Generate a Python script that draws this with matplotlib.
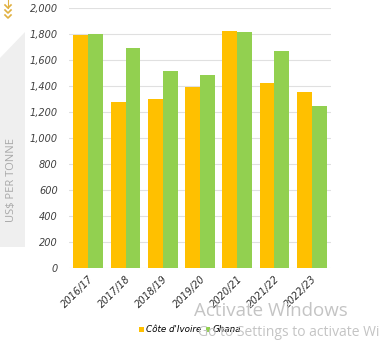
import numpy as np
import matplotlib
matplotlib.use("Agg")
import matplotlib.pyplot as plt
from matplotlib.patches import Polygon

seasons = ["2016/17", "2017/18", "2018/19", "2019/20", "2020/21", "2021/22", "2022/23"]
cote_divoire = [1790, 1277, 1300, 1395, 1823, 1421, 1354]
ghana = [1800, 1694, 1518, 1487, 1818, 1672, 1244]
yticks = [0, 200, 400, 600, 800, 1000, 1200, 1400, 1600, 1800, 2000]

gold = "#FFC000"
green = "#92D050"

fig = plt.figure(figsize=(3.8, 3.51), dpi=100)
W, H = 380, 351

# grey side band with the axis title
band = Polygon([(0, 1 - 58 / H), (25 / W, 1 - 32 / H), (25 / W, 1 - 247 / H), (0, 1 - 247 / H)],
               closed=True, transform=fig.transFigure, facecolor="#efefef", edgecolor="none")
fig.patches.append(band)
fig.text(12 / W, 1 - 180 / H, "US$ PER TONNE", rotation=90, ha="center", va="center",
         fontsize=8, color="#a8a8a8", family="Open Sans")

# little gold arrows top left
arrow_col = "#e0b040"
fig.add_artist(plt.Line2D([8 / W, 8 / W], [1.0, 1 - 8 / H], transform=fig.transFigure, color=arrow_col, lw=0.8))
for yy in (8, 13, 18):
    fig.add_artist(plt.Line2D([5 / W, 8 / W, 11 / W], [1 - (yy - 3) / H, 1 - yy / H, 1 - (yy - 3) / H],
                              transform=fig.transFigure, color=arrow_col, lw=1.2))

ax = fig.add_axes([69 / W, 1 - 268 / H, (331 - 69) / W, 260 / H])
x = np.arange(len(seasons))
w = 0.4
ax.bar(x - w / 2, cote_divoire, w, color=gold, label="Côte d'Ivoire", zorder=2)
ax.bar(x + w / 2, ghana, w, color=green, label="Ghana", zorder=2)

ax.set_xlim(-0.52, 6.52)
ax.set_ylim(0, 2000)
ax.set_yticks(yticks)
ax.set_yticklabels([f"{v:,}" for v in yticks], fontsize=7, style="italic", color="#404040")
ax.set_xticks(x)
ax.set_xticklabels(seasons, rotation=45, ha="right", rotation_mode="anchor",
                   fontsize=7, style="italic", color="#303030")
ax.grid(axis="y", color="#e0e0e0", lw=0.8, zorder=0)
ax.tick_params(length=0, pad=8)
ax.tick_params(axis="x", pad=4)
for s in ax.spines.values():
    s.set_visible(False)

leg = ax.legend(loc="center", ncol=2, frameon=False, handlelength=0.5, handleheight=0.5,
                handletextpad=0.25, columnspacing=0.5,
                prop={"style": "italic", "size": 6.3, "family": "DejaVu Sans"})
leg.set_bbox_to_anchor((190 / W, 1 - 330 / H), transform=fig.transFigure)

# screenshot watermark
fig.text(194 / W, 1 - 311 / H, "Activate Windows", fontsize=13.5, color="#c4c4c4",
         va="center", family="Open Sans")
fig.text(198 / W, 1 - 332 / H, "Go to Settings to activate Windows.", fontsize=10, color="#c4c4c4",
         va="center", family="Open Sans", zorder=0)

fig.savefig("out.png", dpi=100)
